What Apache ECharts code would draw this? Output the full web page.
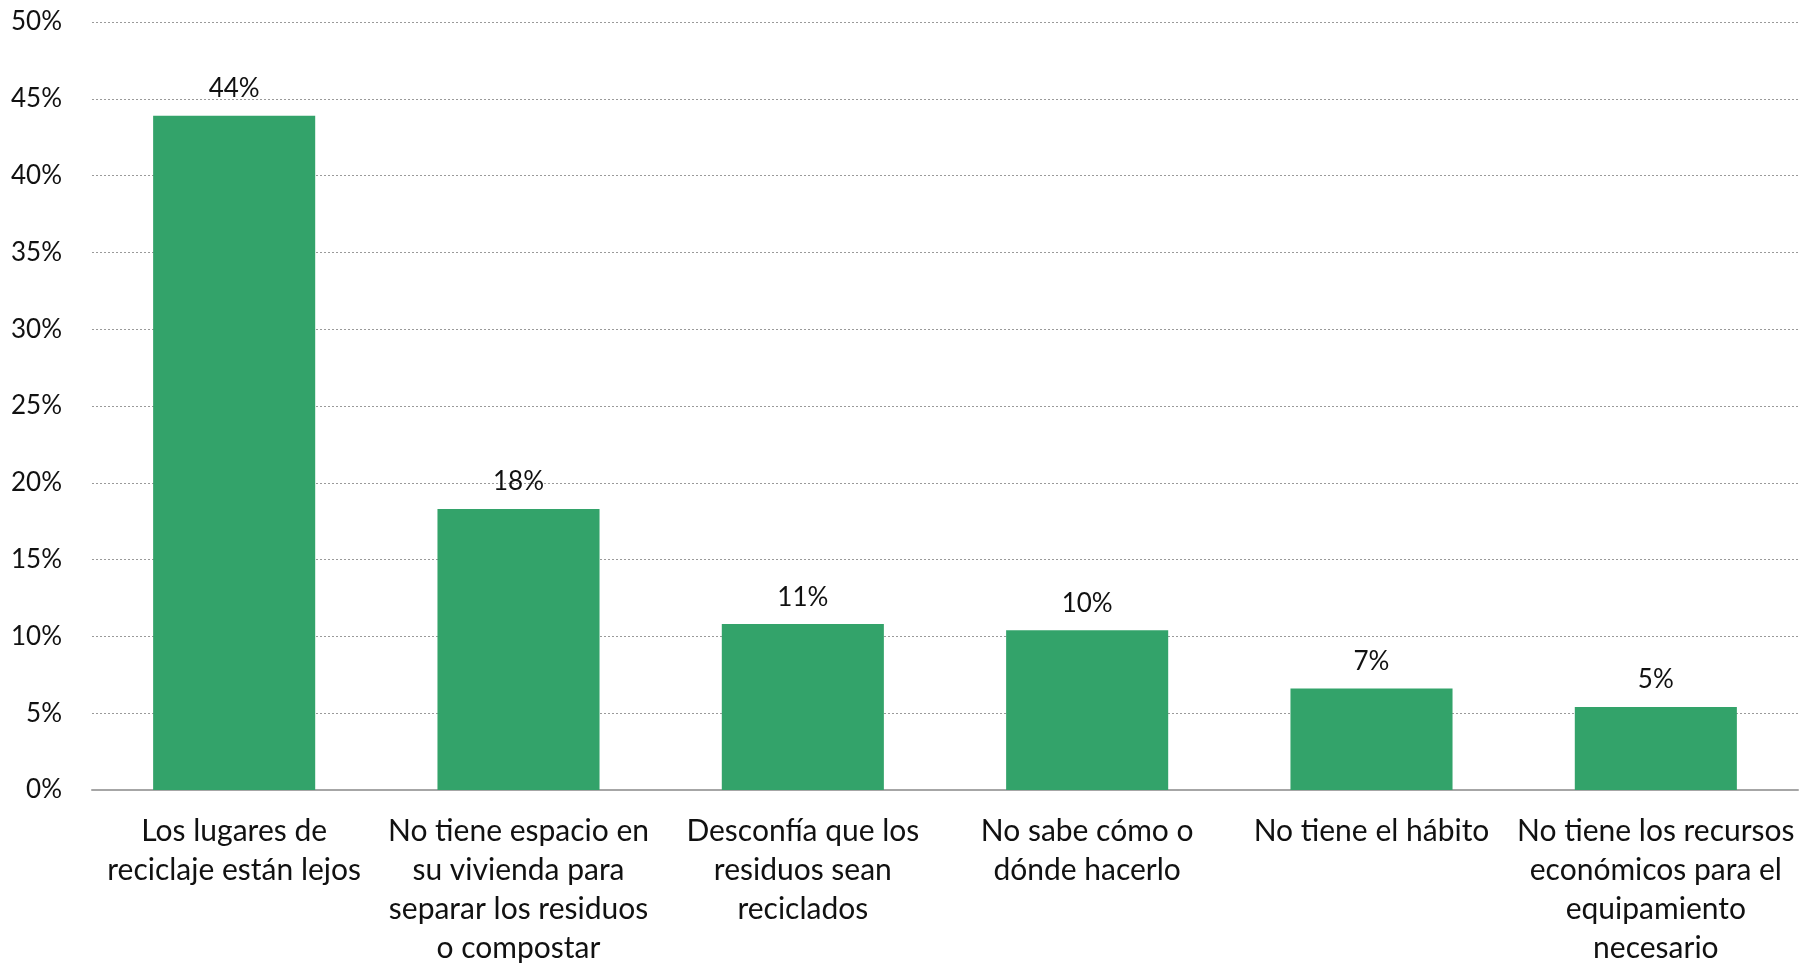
<!DOCTYPE html>
<html>
<head>
<meta charset="utf-8">
<script src="https://cdn.jsdelivr.net/npm/echarts@6/dist/echarts.min.js"></script>
<style>
html,body{margin:0;padding:0;background:#fff;}
#chart{width:1802px;height:963px;}
</style>
</head>
<body>
<div id="chart"></div>
<script>
const categories = [
  "Los lugares de\nreciclaje están lejos",
  "No tiene espacio en\nsu vivienda para\nseparar los residuos\no compostar",
  "Desconfía que los\nresiduos sean\nreciclados",
  "No sabe cómo o\ndónde hacerlo",
  "No tiene el hábito",
  "No tiene los recursos\neconómicos para el\nequipamiento\nnecesario"
];
const values = [43.9, 18.3, 10.8, 10.4, 6.6, 5.4];
const yTicks = [0, 5, 10, 15, 20, 25, 30, 35, 40, 45, 50];

const FONT = 'Lato';
const chart = echarts.init(document.getElementById('chart'));
chart.setOption({
  animation: false,
  textStyle: { fontFamily: FONT },
  grid: { left: 92, right: 4, top: 22, bottom: 173, containLabel: false, outerBoundsMode: 'none' },
  xAxis: {
    type: 'category',
    data: categories,
    axisTick: { show: false },
    axisLine: { lineStyle: { color: '#a6a6a6', width: 2 } },
    axisLabel: {
      interval: 0, color: '#111', fontSize: 30, fontFamily: FONT,
      lineHeight: 39, margin: 22, align: 'center'
    }
  },
  yAxis: {
    type: 'value',
    min: yTicks[0], max: yTicks[yTicks.length - 1], interval: 5,
    axisLine: { show: false },
    axisTick: { show: false },
    axisLabel: { formatter: '{value}%', color: '#111', fontSize: 26, fontFamily: FONT, margin: 30 },
    splitLine: { lineStyle: { color: '#9a9a9a', type: [2, 2], width: 1 } }
  },
  series: [{
    type: 'bar',
    data: values,
    barCategoryGap: '43%',
    itemStyle: { color: '#33a36a' },
    label: {
      show: true, position: 'top', distance: 14,
      color: '#111', fontSize: 26, fontFamily: FONT,
      formatter: p => Math.round(p.value) + '%'
    }
  }]
});
</script>
</body>
</html>
